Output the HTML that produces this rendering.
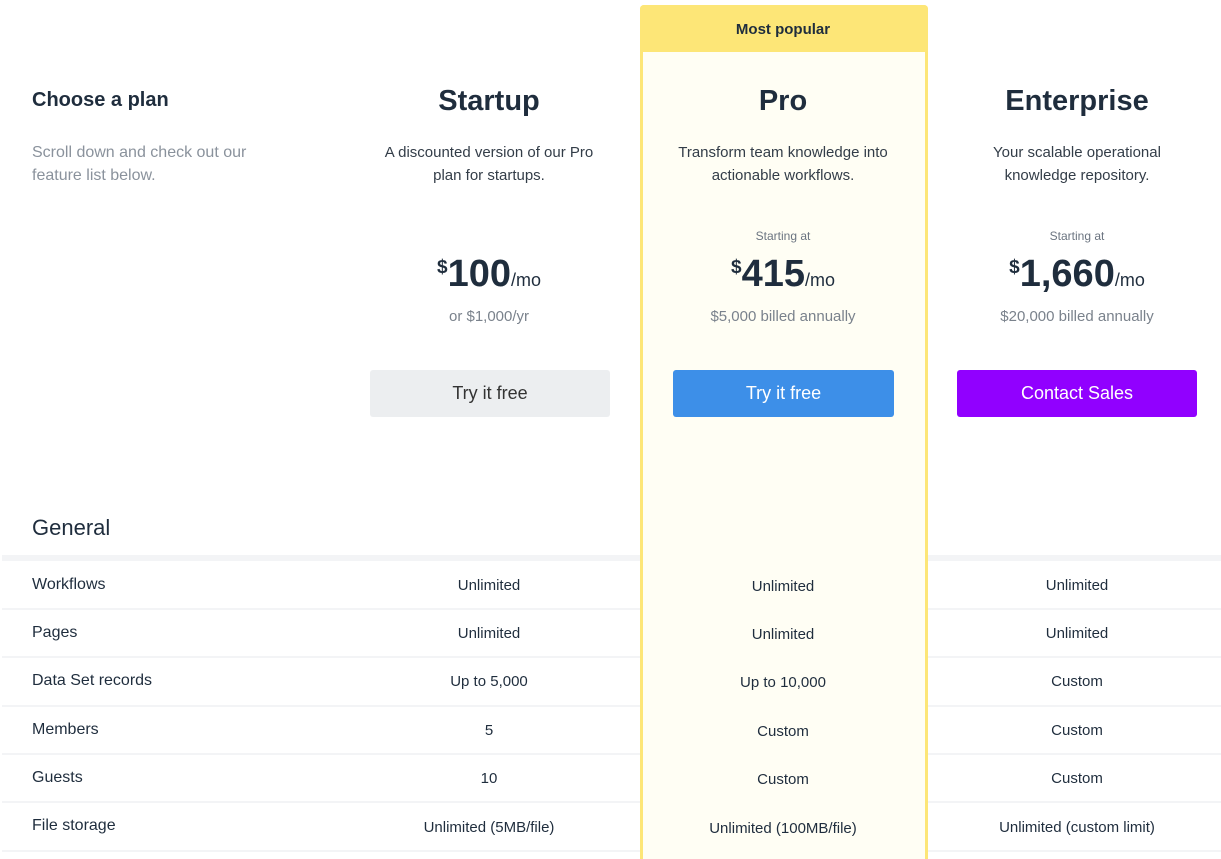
<!DOCTYPE html>
<html><head><meta charset="utf-8"><style>
*{margin:0;padding:0;box-sizing:border-box}
html,body{width:1221px;height:859px;overflow:hidden}
body{background:#fff;font-family:"Liberation Sans",sans-serif;color:#1f2d3d;position:relative}
.a{position:absolute}
.c{position:absolute;text-align:center;transform:translateX(-50%);white-space:nowrap}
.card{left:640px;top:5px;width:288px;height:854px;border:3px solid #fde677;border-bottom:none;border-radius:4px 4px 0 0;background:#fffef4}
.hd{left:640px;top:5px;width:288px;height:47px;background:#fde677;border-radius:4px 4px 0 0}
.title{font-size:29px;font-weight:bold;top:85px}
.desc{font-size:15px;line-height:23px;color:#333d48;top:141px}
.start{font-size:12px;color:#6b7480;top:229px}
.price{top:253px;font-size:38px;font-weight:bold}
.price sup{font-size:19px;vertical-align:top;position:relative;top:4px}
.price small{font-size:18px;font-weight:normal}
.sub{font-size:15px;color:#7a828c;top:307px}
.btn{position:absolute;top:370px;height:47px;border-radius:3px;font-size:18px;text-align:center;line-height:47px}
.line{position:absolute;height:2px;background:#f3f4f6}
.lbl{position:absolute;left:32px;font-size:16px;color:#1f2d3d}
.v{font-size:15px;color:#1f2d3d}
</style></head><body>
<div class="a card"></div>
<div class="a hd"></div>
<div class="c" style="left:783px;top:21px;font-size:15px;font-weight:bold">Most popular</div>

<div class="a" style="left:32px;top:89px;font-size:20px;font-weight:bold">Choose a plan</div>
<div class="a" style="left:32px;top:141px;font-size:16px;line-height:23px;color:#8a929c">Scroll down and check out our<br>feature list below.</div>

<div class="c title" style="left:489px">Startup</div>
<div class="c title" style="left:783px">Pro</div>
<div class="c title" style="left:1077px">Enterprise</div>

<div class="c desc" style="left:489px">A discounted version of our Pro<br>plan for startups.</div>
<div class="c desc" style="left:783px">Transform team knowledge into<br>actionable workflows.</div>
<div class="c desc" style="left:1077px">Your scalable operational<br>knowledge repository.</div>

<div class="c start" style="left:783px">Starting at</div>
<div class="c start" style="left:1077px">Starting at</div>

<div class="c price" style="left:489px"><sup>$</sup>100<small>/mo</small></div>
<div class="c price" style="left:783px"><sup>$</sup>415<small>/mo</small></div>
<div class="c price" style="left:1077px"><sup>$</sup>1,660<small>/mo</small></div>

<div class="c sub" style="left:489px;top:308px">or $1,000/yr</div>
<div class="c sub" style="left:783px;top:308px">$5,000 billed annually</div>
<div class="c sub" style="left:1077px;top:308px">$20,000 billed annually</div>

<div class="btn" style="left:370px;width:240px;background:#eceef0;color:#333">Try it free</div>
<div class="btn" style="left:673px;width:221px;background:#3d8fe8;color:#fff">Try it free</div>
<div class="btn" style="left:957px;width:240px;background:#9100ff;color:#fff">Contact Sales</div>

<div class="a" style="left:32px;top:515px;font-size:22px">General</div>

<div class="line" style="left:2px;width:638px;top:555px;height:6px"></div>
<div class="line" style="left:928px;width:293px;top:555px;height:6px"></div>

<div class="line" style="left:2px;width:638px;top:608px"></div><div class="line" style="left:928px;width:293px;top:608px"></div>
<div class="line" style="left:2px;width:638px;top:656px"></div><div class="line" style="left:928px;width:293px;top:656px"></div>
<div class="line" style="left:2px;width:638px;top:705px"></div><div class="line" style="left:928px;width:293px;top:705px"></div>
<div class="line" style="left:2px;width:638px;top:753px"></div><div class="line" style="left:928px;width:293px;top:753px"></div>
<div class="line" style="left:2px;width:638px;top:801px"></div><div class="line" style="left:928px;width:293px;top:801px"></div>
<div class="line" style="left:2px;width:638px;top:850px"></div><div class="line" style="left:928px;width:293px;top:850px"></div>

<div class="lbl" style="top:576px">Workflows</div>
<div class="lbl" style="top:624px">Pages</div>
<div class="lbl" style="top:672px">Data Set records</div>
<div class="lbl" style="top:721px">Members</div>
<div class="lbl" style="top:769px">Guests</div>
<div class="lbl" style="top:817px">File storage</div>

<div class="c v" style="left:489px;top:577px">Unlimited</div>
<div class="c v" style="left:783px;top:578px">Unlimited</div>
<div class="c v" style="left:1077px;top:577px">Unlimited</div>
<div class="c v" style="left:489px;top:625px">Unlimited</div>
<div class="c v" style="left:783px;top:626px">Unlimited</div>
<div class="c v" style="left:1077px;top:625px">Unlimited</div>
<div class="c v" style="left:489px;top:673px">Up to 5,000</div>
<div class="c v" style="left:783px;top:674px">Up to 10,000</div>
<div class="c v" style="left:1077px;top:673px">Custom</div>
<div class="c v" style="left:489px;top:722px">5</div>
<div class="c v" style="left:783px;top:723px">Custom</div>
<div class="c v" style="left:1077px;top:722px">Custom</div>
<div class="c v" style="left:489px;top:770px">10</div>
<div class="c v" style="left:783px;top:771px">Custom</div>
<div class="c v" style="left:1077px;top:770px">Custom</div>
<div class="c v" style="left:489px;top:819px">Unlimited (5MB/file)</div>
<div class="c v" style="left:783px;top:820px">Unlimited (100MB/file)</div>
<div class="c v" style="left:1077px;top:819px">Unlimited (custom limit)</div>
</body></html>
